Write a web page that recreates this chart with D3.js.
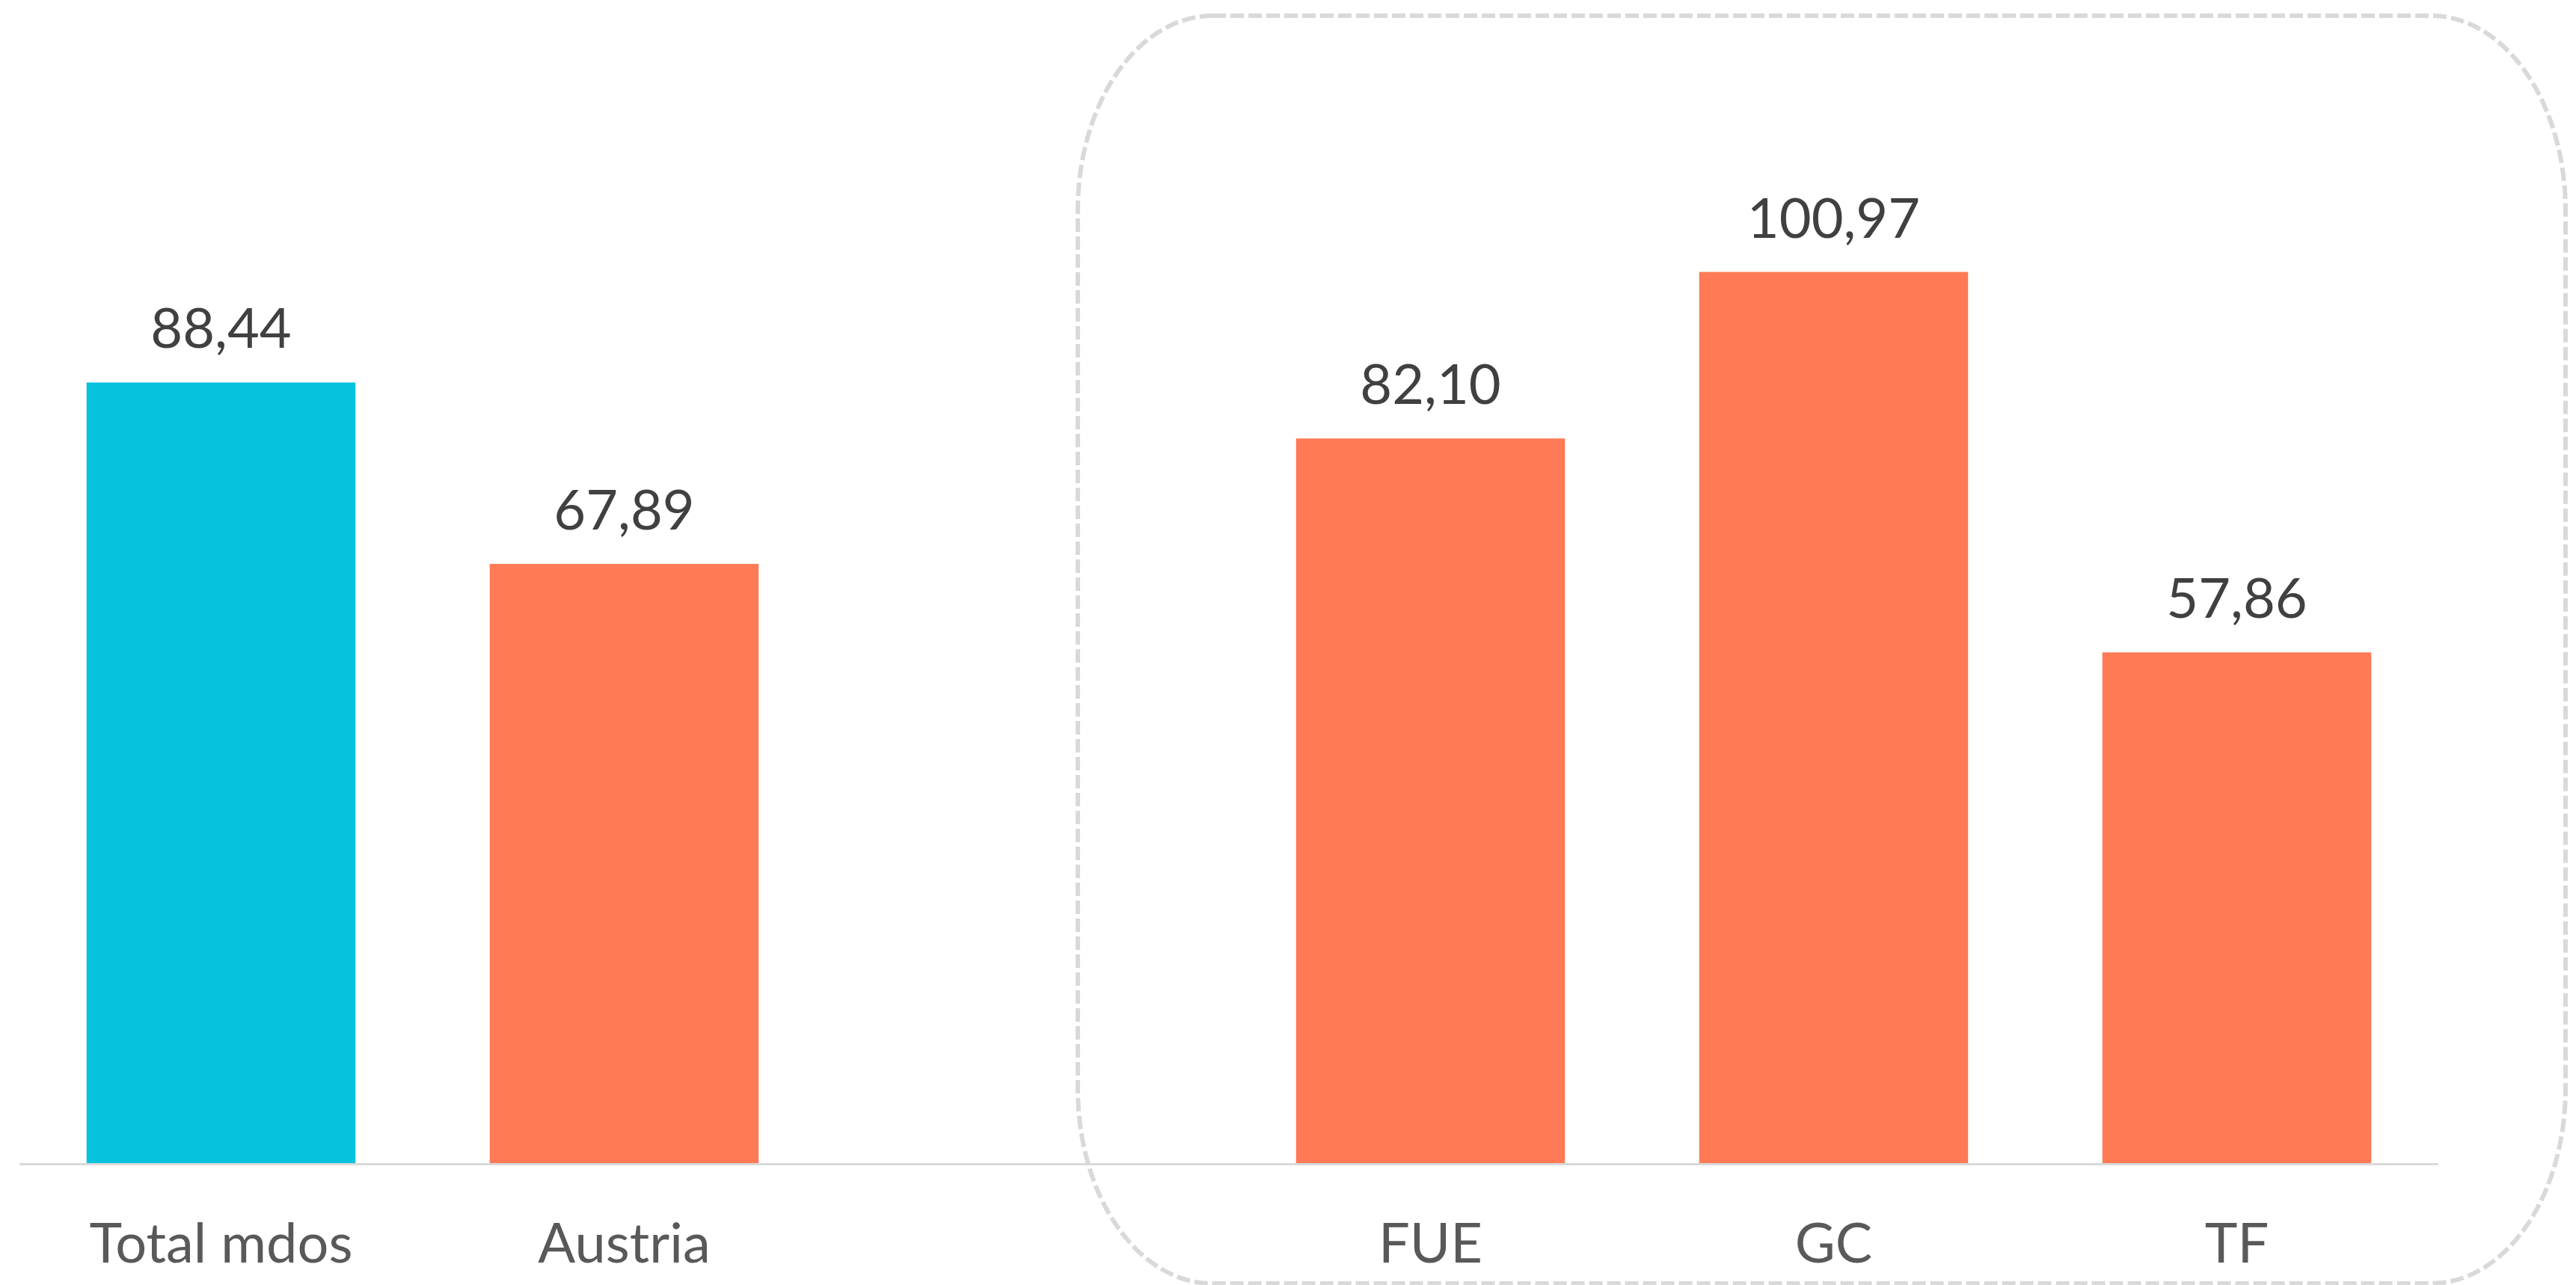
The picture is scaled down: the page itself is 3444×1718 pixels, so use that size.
<!DOCTYPE html>
<html>
<head>
<meta charset="utf-8">
<script src="https://cdn.jsdelivr.net/npm/d3@7"></script>
<style>
  html, body { margin: 0; padding: 0; background: #fff; }
  svg { display: block; }
</style>
</head>
<body>
<div class="barChart"></div>
<script>
const categories = ["Total mdos", "Austria", "", "FUE", "GC", "TF"]
const values = [88.44, 67.89, null, 82.10, 100.97, 57.86]
const valueLabels = ["88,44", "67,89", "", "82,10", "100,97", "57,86"]
const barColors = ["#06C2DE", "#FF7A55", null, "#FF7A55", "#FF7A55", "#FF7A55"]

const width = 3444
const height = 1718
const baseline = 1555

const svg = d3.select(".barChart").append("svg")
  .attr("width", width)
  .attr("height", height)

const xScale = d3.scaleBand()
  .domain(categories.map((c, i) => i))
  .range([26, 3260])
  .paddingInner(0.333)
  .paddingOuter(0.1665)

const yScale = d3.scaleLinear().domain([0, 120]).range([baseline, 139])

const data = categories.map((c, i) => ({ name: c, value: values[i], label: valueLabels[i], color: barColors[i], i }))
const bars = data.filter(d => d.value != null)

// dashed box round FUE / GC / TF
svg.append("rect")
  .attr("x", 1441)
  .attr("y", 21)
  .attr("width", 1989)
  .attr("height", 1695)
  .attr("rx", 180)
  .attr("ry", 260)
  .attr("fill", "none")
  .attr("stroke", "#d9d9d9")
  .attr("stroke-width", 6)
  .attr("stroke-dasharray", "18,6")

svg.selectAll("rect.bar")
  .data(bars)
  .enter()
  .append("rect")
  .attr("class", "bar")
  .attr("x", d => xScale(d.i))
  .attr("y", d => yScale(d.value))
  .attr("width", xScale.bandwidth())
  .attr("height", d => baseline - yScale(d.value))
  .attr("fill", d => d.color)

// axis line
svg.append("line")
  .attr("x1", xScale.range()[0])
  .attr("x2", xScale.range()[1])
  .attr("y1", baseline + 1.5)
  .attr("y2", baseline + 1.5)
  .attr("stroke", "#d9d9d9")
  .attr("stroke-width", 3)

svg.selectAll("text.value")
  .data(bars)
  .enter()
  .append("text")
  .attr("class", "value")
  .attr("x", d => xScale(d.i) + xScale.bandwidth() / 2)
  .attr("y", d => yScale(d.value) - 46)
  .attr("text-anchor", "middle")
  .attr("font-family", "Lato, sans-serif")
  .attr("font-size", 74)
  .attr("fill", "#404040")
  .text(d => d.label)

svg.selectAll("text.cat")
  .data(data.filter(d => d.name !== ""))
  .enter()
  .append("text")
  .attr("class", "cat")
  .attr("x", d => xScale(d.i) + xScale.bandwidth() / 2)
  .attr("y", 1688)
  .attr("text-anchor", "middle")
  .attr("font-family", "Lato, sans-serif")
  .attr("font-size", 74)
  .attr("fill", "#595959")
  .text(d => d.name)
</script>
</body>
</html>
